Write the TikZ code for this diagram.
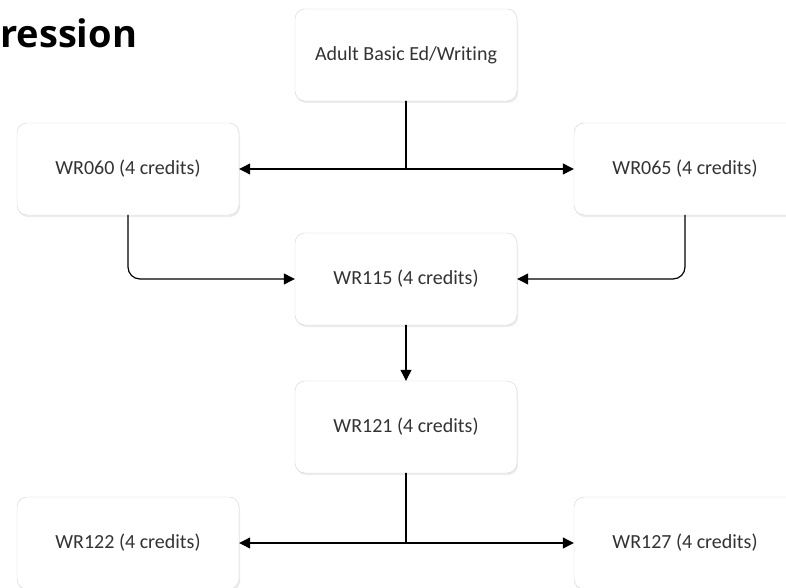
\documentclass[tikz,border=0pt]{standalone}
\usepackage{fontspec}
\setmainfont{Carlito}[Ligatures=NoCommon]
\newfontfamily\headfont{Open Sans}
\usetikzlibrary{arrows.meta,shadows}
\definecolor{BoxEdge}{HTML}{D4D4D4}
\definecolor{BoxText}{HTML}{333333}

\begin{document}
\begin{tikzpicture}[x=1pt,y=-1pt,line cap=round,
  course/.style={draw=BoxEdge,fill=white,rounded corners=10pt,minimum width=222pt,minimum height=92pt,
    text=BoxText,font=\fontsize{20}{22}\selectfont,drop shadow={opacity=0.15,shadow xshift=1pt,shadow yshift=-2pt}},
  link/.style={line width=1.2pt,-{Triangle[length=11pt,width=11pt]}}]
  \useasboundingbox (0,0) rectangle (786,588);
  \node[anchor=base west,font=\headfont\bfseries\fontsize{38}{42}\selectfont,inner sep=0pt] (title) at (0,48) {ression};
  \node[course] (abe) at (406,55) {Adult Basic Ed/Writing};
  \node[course] (wr060) at (128,169) {WR060 (4 credits)}; \node[course] (wr065) at (685,169) {WR065 (4 credits)};
  \node[course] (wr115) at (406,279) {WR115 (4 credits)}; \node[course] (wr121) at (406,427) {WR121 (4 credits)};
  \node[course] (wr122) at (128,543) {WR122 (4 credits)}; \node[course] (wr127) at (685,543) {WR127 (4 credits)};
  \coordinate (split1) at (406,169); \coordinate (split2) at (406,543);
  \draw[line width=1.2pt] (abe) -- (split1); \draw[link] (split1) -- (wr060); \draw[link] (split1) -- (wr065);
  \draw[link,rounded corners=12pt] (wr060.south) |- (wr115); \draw[link,rounded corners=12pt] (wr065.south) |- (wr115);
  \draw[link] (wr115) -- (wr121);
  \draw[line width=1.2pt] (wr121) -- (split2); \draw[link] (split2) -- (wr122); \draw[link] (split2) -- (wr127);
\end{tikzpicture}
\end{document}
